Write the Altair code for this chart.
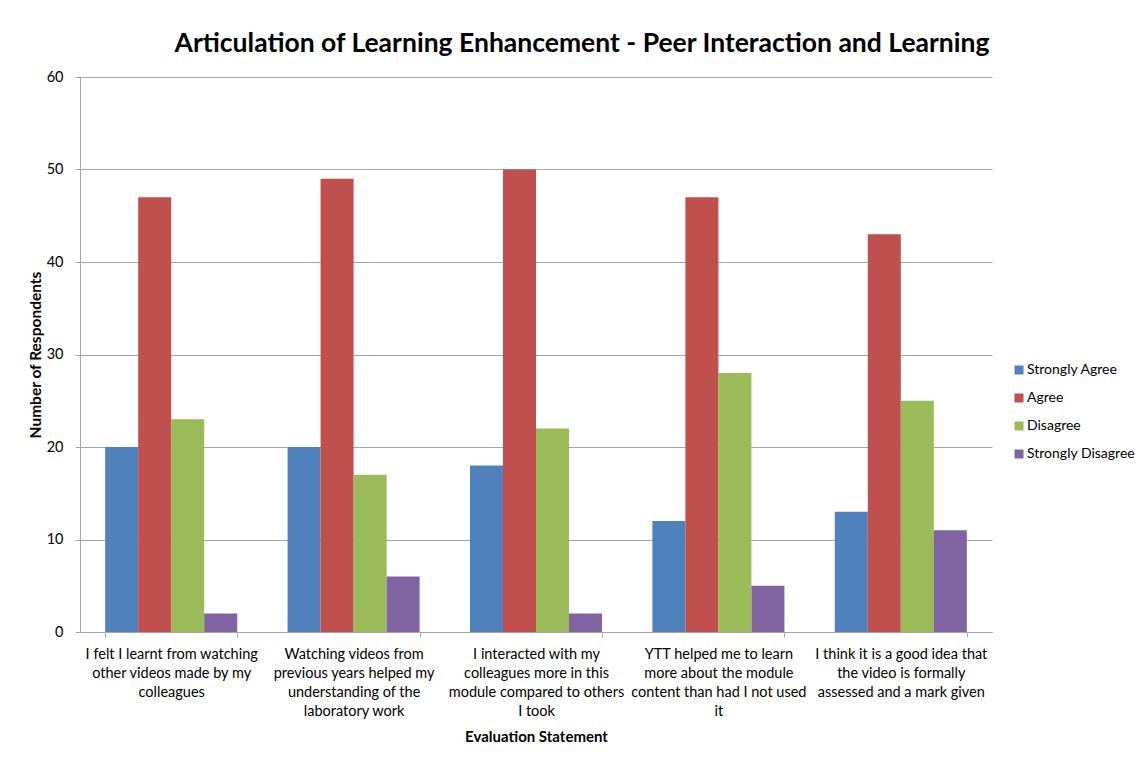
import altair as alt
import pandas as pd

statements = [
    "I felt I learnt from watching|other videos made by my|colleagues",
    "Watching videos from|previous years helped my|understanding of the|laboratory work",
    "I interacted with my|colleagues more in this|module compared to others|I took",
    "YTT helped me to learn|more about the module|content than had I not used|it",
    "I think it is a good idea that|the video is formally|assessed and a mark given",
]
responses = ["Strongly Agree", "Agree", "Disagree", "Strongly Disagree"]
colors = ["#4F81BD", "#C0504D", "#9BBB59", "#8064A2"]

strongly_agree = [20, 20, 18, 12, 13]
agree = [47, 49, 50, 47, 43]
disagree = [23, 17, 22, 28, 25]
strongly_disagree = [2, 6, 2, 5, 11]

series = [strongly_agree, agree, disagree, strongly_disagree]
rows = []
for r, vals in zip(responses, series):
    for s, v in zip(statements, vals):
        rows.append({"Statement": s, "Response": r, "Count": v})
df = pd.DataFrame(rows)

FONT = "Lato"
GRID = "#a6a6a6"

chart = alt.Chart(df).mark_bar().encode(
    x=alt.X(
        "Statement:N",
        sort=statements,
        title="Evaluation Statement",
        scale=alt.Scale(paddingInner=0.276, paddingOuter=0.138),
        axis=alt.Axis(
            labelExpr="split(datum.label, '|')",
            labelAngle=0,
            labelFontSize=14.5,
            labelLineHeight=19,
            labelPadding=10,
            labelColor="#000000",
            labelFont=FONT,
            tickBand="extent",
            tickSize=5,
            tickColor=GRID,
            domainColor=GRID,
            titleFontSize=15,
            titleFontWeight="bold",
            titleFont=FONT,
            titlePadding=12,
            titleColor="#000000",
            grid=False,
        ),
    ),
    xOffset=alt.XOffset("Response:N", sort=responses, scale=alt.Scale(paddingInner=0, paddingOuter=0)),
    y=alt.Y(
        "Count:Q",
        title="Number of Respondents",
        scale=alt.Scale(domain=[0, 60]),
        axis=alt.Axis(
            values=[0, 10, 20, 30, 40, 50, 60],
            labelFontSize=14.5,
            labelFont=FONT,
            labelColor="#000000",
            labelPadding=12,
            tickSize=5,
            tickColor=GRID,
            domainColor=GRID,
            gridColor=GRID,
            titleFontSize=15.5,
            titleFontWeight="bold",
            titleFont=FONT,
            titleColor="#000000",
            titlePadding=3,
        ),
    ),
    color=alt.Color(
        "Response:N",
        sort=responses,
        scale=alt.Scale(domain=responses, range=colors),
        legend=alt.Legend(
            title=None,
            orient="none",
            legendX=932,
            legendY=286,
            symbolType="square",
            symbolSize=81,
            symbolStrokeWidth=0,
            labelFontSize=14,
            labelFont=FONT,
            labelColor="#000000",
            rowPadding=14,
            labelOffset=1,
            padding=0,
        ),
    ),
).properties(
    width=912,
    height=555,
    autosize=alt.AutoSizeParams(type="none"),
    padding={"left": 72, "top": 69, "right": 144, "bottom": 116},
    title=alt.TitleParams(
        "Articulation of Learning Enhancement - Peer Interaction and Learning",
        fontSize=26.5,
        font=FONT,
        fontWeight="bold",
        color="#000000",
        anchor="middle",
        dx=46,
        offset=12,
    ),
).configure_view(stroke=None)

chart.save("out.html", embed_options={"renderer": "svg", "actions": False})
